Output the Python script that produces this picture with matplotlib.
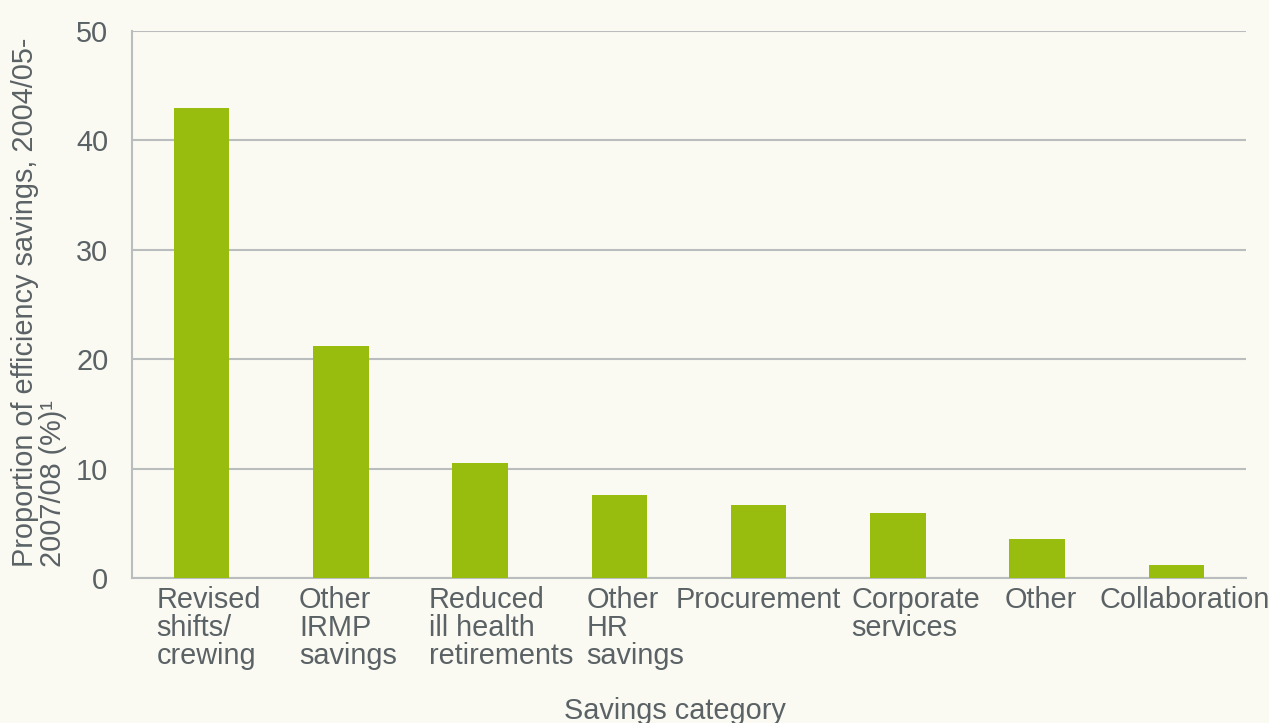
import matplotlib
matplotlib.use("Agg")
import matplotlib.pyplot as plt
import matplotlib.transforms as mtransforms

# savings categories and share of efficiency savings (%)
categorias = ["Revised\nshifts/\ncrewing", "Other\nIRMP\nsavings", "Reduced\nill health\nretirements",
              "Other\nHR\nsavings", "Procurement", "Corporate\nservices", "Other", "Collaboration"]
valores = [43.0, 21.2, 10.5, 7.6, 6.7, 5.9, 3.6, 1.2]
yticks = [0, 10, 20, 30, 40, 50]

fondo = "#fafaf3"
texto = "#5b6265"
plt.rcParams["font.family"] = ["Liberation Sans", "DejaVu Sans"]
plt.rcParams["font.size"] = 20.8

fig = plt.figure(figsize=(12.69, 7.23), dpi=100, facecolor=fondo)
ax = fig.add_axes([132 / 1269, 1 - 578 / 723, (1246 - 132) / 1269, (578 - 31) / 723])
ax.set_facecolor(fondo)

x = list(range(len(categorias)))
ax.bar(x, valores, width=0.4, color="#99bd0f", zorder=3)

ax.set_xlim(-0.5, len(categorias) - 0.5)
ax.set_ylim(0, 50)
ax.set_yticks(yticks)
ax.set_xticks(x)
ax.set_xticklabels(categorias, multialignment="left", linespacing=1.0, color=texto)
for lbl in ax.get_yticklabels():
    lbl.set_color(texto)
ax.tick_params(length=0, pad=6)
ax.tick_params(axis="y", pad=17)

# en el original las etiquetas no quedan centradas exactas, se corren un poco
corrimientos = [7, 7, 21, 16, 0, 18, 4, 8]
for lbl, dx in zip(ax.get_xticklabels(), corrimientos):
    lbl.set_transform(lbl.get_transform() + mtransforms.ScaledTranslation(dx / 100, 0, fig.dpi_scale_trans))

ax.grid(axis="y", color="#b9bdbd", linewidth=1.5, zorder=0)
for s in ["top", "right"]:
    ax.spines[s].set_visible(False)
for s in ["left", "bottom"]:
    ax.spines[s].set_color("#b9bdbd")
    ax.spines[s].set_linewidth(1.5)

fig.text(11 / 1269, 1 - 302 / 723, "Proportion of efficiency savings, 2004/05-\n2007/08 (%)\u00b9",
         rotation=90, ha="left", va="center", multialignment="left", linespacing=1.0, color=texto)
fig.text(675 / 1269, 1 - 711 / 723, "Savings category", ha="center", va="center", color=texto)

fig.savefig("out.png", dpi=100, facecolor=fondo)
